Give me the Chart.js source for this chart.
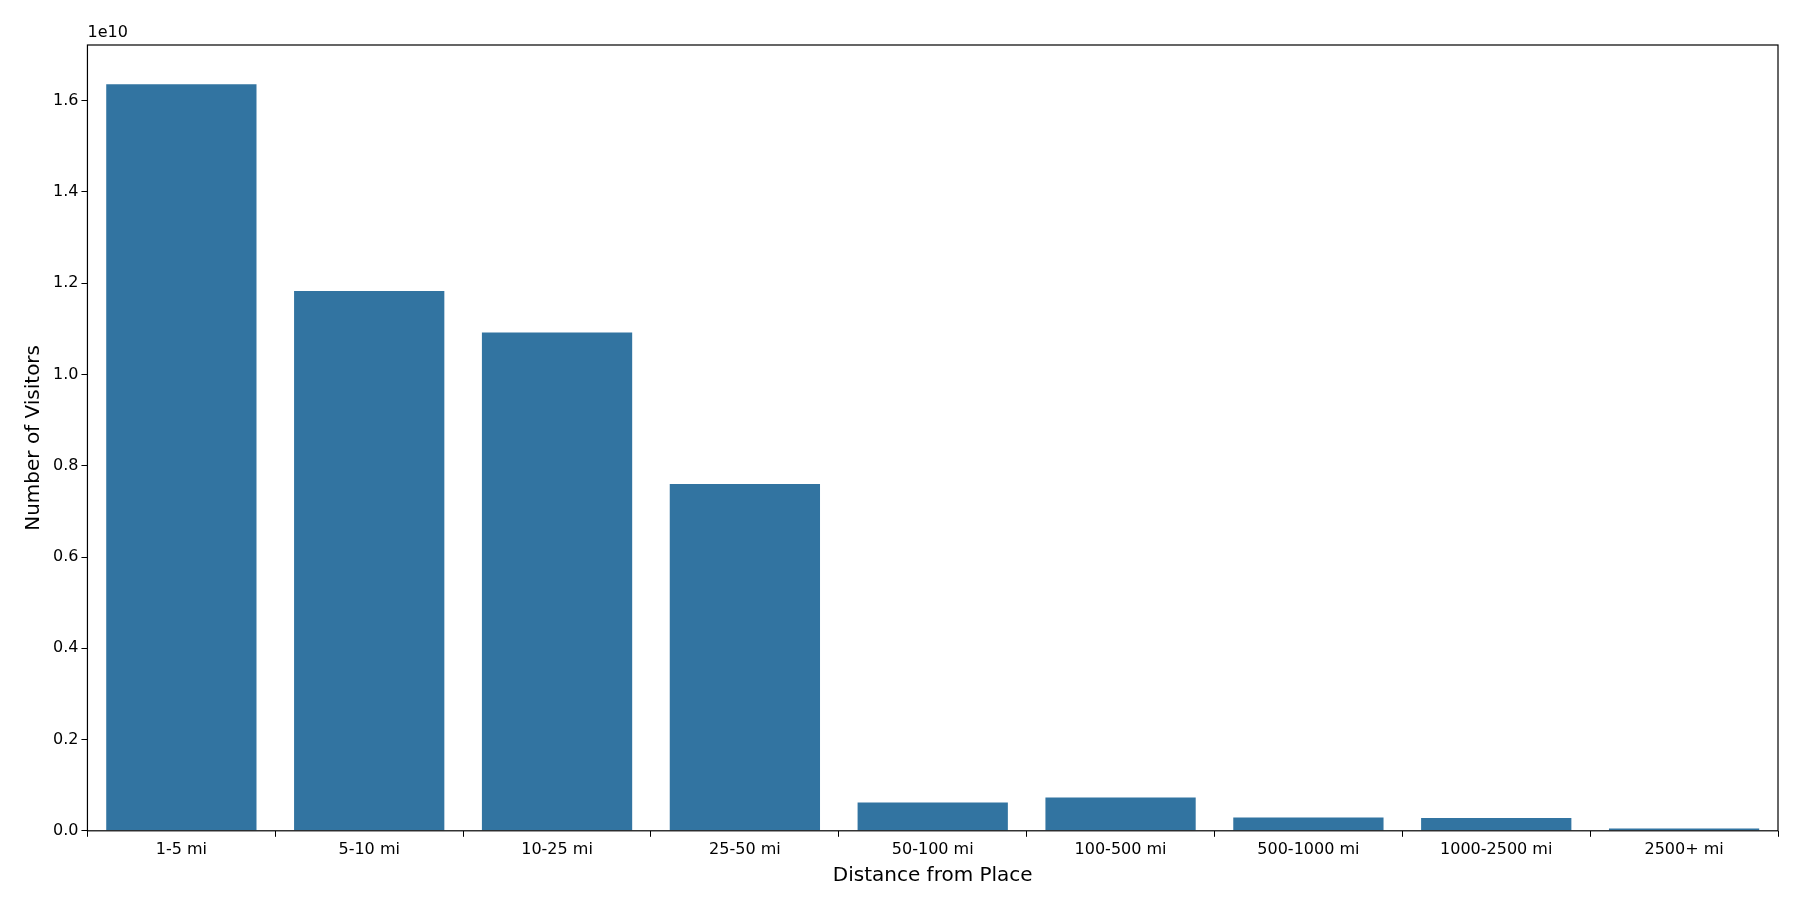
<!DOCTYPE html>
<html>
<head>
<meta charset="utf-8">
<script src="https://cdn.jsdelivr.net/npm/chart.js@4"></script>
<style>
  html, body { margin: 0; padding: 0; background: #fff; }
  #wrap { width: 1800px; height: 900px; }
</style>
</head>
<body>
<div id="wrap"><canvas id="chart" width="1800" height="900"></canvas></div>
<script>
const categories = ['1-5 mi', '5-10 mi', '10-25 mi', '25-50 mi', '50-100 mi', '100-500 mi', '500-1000 mi', '1000-2500 mi', '2500+ mi'];
const visitors = [1.636e10, 1.183e10, 1.092e10, 0.760e10, 0.062e10, 0.073e10, 0.029e10, 0.028e10, 0.005e10];
const yTicks = [0, 0.2e10, 0.4e10, 0.6e10, 0.8e10, 1.0e10, 1.2e10, 1.4e10, 1.6e10];

// frame + offset label, drawn like matplotlib
const framePlugin = {
    id: 'frame',
    afterDraw(chart) {
        const {ctx, chartArea: a} = chart;
        ctx.save();
        ctx.strokeStyle = '#000';
        ctx.lineWidth = 1.2;
        ctx.strokeRect(a.left, a.top, a.right - a.left, a.bottom - a.top);
        ctx.fillStyle = '#000';
        ctx.font = '16px "DejaVu Sans"';
        ctx.textBaseline = 'bottom';
        ctx.fillText('1e10', a.left, a.top - 4);
        ctx.restore();
    }
};

new Chart(document.getElementById('chart').getContext('2d'), {
    type: 'bar',
    data: {
        labels: categories,
        datasets: [{
            data: visitors,
            backgroundColor: '#3274a1',
            categoryPercentage: 1.0,
            barPercentage: 0.8
        }]
    },
    options: {
        responsive: false,
        animation: false,
        layout: {padding: {top: 45, right: 22, left: 18, bottom: 8}},
        plugins: {legend: {display: false}, tooltip: {enabled: false}},
        scales: {
            x: {
                grid: {display: true, drawOnChartArea: false, tickLength: 6, color: '#000'},
                border: {display: false},
                ticks: {color: '#000', font: {family: 'DejaVu Sans', size: 16}},
                title: {display: true, text: 'Distance from Place', color: '#000',
                        font: {family: 'DejaVu Sans', size: 20}, padding: {top: 2}}
            },
            y: {
                min: 0,
                max: 1.722e10,
                grid: {display: true, drawOnChartArea: false, tickLength: 6, color: '#000'},
                border: {display: false},
                afterBuildTicks: axis => { axis.ticks = yTicks.map(v => ({value: v})); },
                ticks: {
                    color: '#000',
                    font: {family: 'DejaVu Sans', size: 16},
                    callback: v => (v / 1e10).toFixed(1)
                },
                title: {display: true, text: 'Number of Visitors', color: '#000',
                        font: {family: 'DejaVu Sans', size: 20}}
            }
        }
    },
    plugins: [framePlugin]
});
</script>
</body>
</html>
